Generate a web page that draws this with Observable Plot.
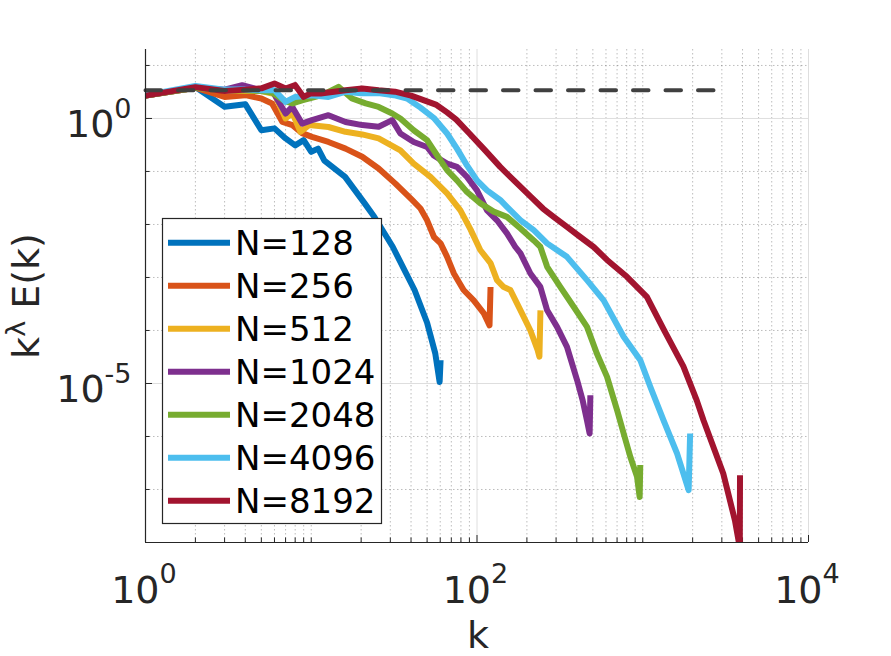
<!DOCTYPE html>
<html>
<head>
<meta charset="utf-8">
<script src="https://cdn.jsdelivr.net/npm/d3@7"></script>
<script src="https://cdn.jsdelivr.net/npm/@observablehq/plot@0.6"></script>
<style>
  html, body { margin: 0; padding: 0; background: #fff; }
  #chart { width: 891px; height: 656px; }
</style>
</head>
<body>
<div id="chart"></div>
<script>
// ---------------- data ----------------
const Ns = [128, 256, 512, 1024, 2048, 4096, 8192];
const labels = Ns.map(n => "N=" + n);
const colors = ["#0072BD", "#D95319", "#EDB120", "#7E2F8E", "#77AC30", "#4DBEEE", "#A2142F"];

const k128 = [1,2,3,4,5,6,7,8,9,10,11,12,16,21,24,31,36,42,50,56,59.5,60.3];
const e128 = [2.7,3.9,1.66,1.86,0.6,0.65,0.42,0.31,0.39,0.235,0.27,0.16,0.079,0.025,0.014,0.0038,0.0015,5.8e-4,1.4e-4,3.7e-5,1.07e-5,2.75e-5];

const k256 = [1,2,3,4,5,5.8,6.7,7.7,8.8,10.1,12.7,16.1,20.3,25.5,32.2,40.6,45.6,50,55,60.3,66,72.5,83,95.5,110,119,120.7];
const e256 = [2.7,3.8,2.55,2.75,2.38,1.92,0.86,0.75,0.53,0.45,0.36,0.27,0.19,0.114,0.059,0.029,0.02,0.012,0.0058,0.0044,0.00245,0.00119,5.8e-4,3.7e-4,2.1e-4,1.25e-4,6.6e-4];

const k512 = [1,2,3,4,5,6,7,7.7,8.6,9.7,12.7,16.1,20.3,25.5,34.5,41.5,52.4,66,79.4,91.5,104.6,120.7,132,145,159,183,210,232,238,241.4];
const e512 = [2.7,3.8,3.4,3.3,3.3,2.9,1.0,1.26,0.56,0.75,0.69,0.56,0.5,0.42,0.25,0.14,0.079,0.0385,0.0185,0.008,0.0033,0.00187,8.9e-4,6.6e-4,5.8e-4,2.4e-4,1e-4,4.3e-5,3.2e-5,2.4e-4];

const k1024 = [1,2,3,3.83,5,5.8,7,7.68,8.8,10.1,12.7,16.1,20.3,25.5,30.8,34.5,41.5,50,54.8,66,75.7,87,100,115,132,151.6,170,183,210,241,265,304,349,402,434,461,478,483];
const e1024 = [2.7,3.8,3.5,4.24,3.4,3.4,1.24,1.65,0.8,0.93,1.15,0.86,0.75,0.7,0.93,0.52,0.36,0.29,0.2,0.141,0.122,0.079,0.044,0.0185,0.012,0.0068,0.0038,0.00284,0.00119,6.65e-4,2.4e-4,1.17e-4,4.9e-5,1.15e-5,4.8e-6,2e-6,1.14e-6,6e-6];

const k2048 = [1,2,3,4,5,5.8,7,7.7,8.8,11.6,14.6,17.6,21.3,25.5,30.8,34.5,41.5,50,57.5,66,75.7,87,105,126,151.6,183,220,241,265,318,383,461,530,609,700,767,842,924,958,966];
const e2048 = [2.7,3.8,3.4,3.4,3.3,3.1,2.1,1.92,2.2,2.75,3.95,2.38,1.92,1.65,1.24,1.0,0.6,0.39,0.2,0.106,0.068,0.041,0.025,0.0175,0.0139,0.0084,0.005,0.0038,0.00159,6.65e-4,2.8e-4,1.17e-4,3.6e-5,1.33e-5,3.15e-6,1.14e-6,4.1e-7,1.74e-7,7.2e-8,2.9e-7];

const k4096 = [1,2,3,4,5,6,7,8,10,12.7,16,20,26,31.5,37.9,45.6,54.8,66,75.7,87,100,115,138,151.6,182.6,220,265,349,461,581,767,967,1112,1337,1610,1892,1931];
const e4096 = [2.75,4.1,3.5,3.5,3.4,3.4,2.06,2.55,2.75,2.55,3.18,3.0,3.0,2.75,2.38,1.6,1.03,0.52,0.27,0.13,0.068,0.044,0.029,0.0215,0.0121,0.0078,0.0044,0.00245,8.9e-4,3.7e-4,7.6e-5,2.75e-5,8.6e-6,2e-6,4.8e-7,9.7e-8,1.14e-6];

const k8192 = [1,2,3,4,5,6,7,8,9,10,11.4,16.1,20.3,25.5,32,40,48,57,66,75,90,112,138,170,210,250,290,349,420,506,609,803,1059,1337,1758,2117,2328,3060,3600,3850,3862];
const e8192 = [2.7,3.9,3.3,3.5,3.7,4.56,3.68,4.25,2.55,3.0,2.96,3.42,3.68,3.4,3.2,2.7,2.2,1.8,1.3,0.95,0.52,0.25,0.122,0.064,0.034,0.02,0.0139,0.009,0.0058,0.00376,0.00214,0.00103,4.3e-4,1.05e-4,2.1e-5,4.8e-6,2e-6,2e-7,2.6e-8,8e-9,1.86e-7];

// dashed reference line
const refK = [1, 3250];
const refV = [3.42, 3.42];

// axis ticks / labels
const xMajor = [1, 100, 10000];
const xMinor = [2,3,4,5,6,7,8,9,10,20,30,40,50,60,70,80,90,200,300,400,500,600,700,800,900,1000,2000,3000,4000,5000,6000,7000,8000,9000];
const yMajor = [1, 1e-5];
const yMinor = [10, 0.1, 0.01, 1e-3, 1e-4, 1e-6, 1e-7];
const xLabelExp = ["0", "2", "4"];
const yLabelExp = ["0", "-5"];

// ---------------- build table ----------------
const ks = [k128, k256, k512, k1024, k2048, k4096, k8192];
const es = [e128, e256, e512, e1024, e2048, e4096, e8192];
const rows = [];
ks.forEach((kk, i) => kk.forEach((k, j) => rows.push({k, v: es[i][j], N: labels[i]})));
const refRows = refK.map((k, i) => ({k, v: refV[i]}));

const FONT = "DejaVu Sans";
const AX = "#262626";

const measure = (() => {
  const c = document.createElement("canvas").getContext("2d");
  return (t, size) => { c.font = `${size}px "${FONT}"`; return c.measureText(t).width; };
})();

const yLabelMarks = yMajor.flatMap((v, i) => {
  const w = measure(yLabelExp[i], 27);
  return [
    Plot.text([v], {y: d => d, frameAnchor: "left", text: () => yLabelExp[i], textAnchor: "end", lineAnchor: "bottom", dx: -14, dy: 0, fontSize: 27, fill: AX}),
    Plot.text([v], {y: d => d, frameAnchor: "left", text: () => "10", textAnchor: "end", lineAnchor: "bottom", dx: -14 - w, dy: 19, fontSize: 38, fill: AX})
  ];
});

const plot = Plot.plot({
  width: 891,
  height: 656,
  marginLeft: 145,
  marginRight: 83,
  marginTop: 49,
  marginBottom: 114,
  style: {background: "white", fontFamily: FONT},
  x: {type: "log", domain: [1, 1e4]},
  y: {type: "log", domain: [1e-8, 20]},
  color: {domain: labels, range: colors},
  marks: [
    // minor grid (dotted)
    Plot.ruleX(xMinor, {stroke: AX, strokeOpacity: 0.3, strokeDasharray: "1.5,2.5"}),
    Plot.ruleY(yMinor, {stroke: AX, strokeOpacity: 0.3, strokeDasharray: "1.5,2.5"}),
    // major grid (solid)
    Plot.ruleX(xMajor, {stroke: "#dedede"}),
    Plot.ruleY(yMajor, {stroke: "#dedede"}),
    // axis ticks (inward)
    Plot.axisX(xMinor, {anchor: "bottom", tickSize: -4.5, tickFormat: () => "", label: null, stroke: AX}),
    Plot.axisX(xMajor, {anchor: "bottom", tickSize: -7, tickFormat: () => "", label: null, stroke: AX}),
    Plot.axisY(yMinor, {anchor: "left", tickSize: -4.5, tickFormat: () => "", label: null, stroke: AX}),
    Plot.axisY(yMajor, {anchor: "left", tickSize: -7, tickFormat: () => "", label: null, stroke: AX}),
    // data lines
    Plot.line(rows, {x: "k", y: "v", z: "N", stroke: "N", strokeWidth: 6, strokeLinejoin: "round", strokeLinecap: "butt", clip: true}),
    // dashed reference line
    Plot.line(refRows, {x: "k", y: "v", stroke: "#404040", strokeWidth: 4, strokeDasharray: "15.5,17"}),
    // axis lines
    Plot.ruleX([1], {stroke: AX, strokeWidth: 1.2}),
    Plot.ruleY([1e-8], {stroke: AX, strokeWidth: 1.2}),
    // x tick labels
    Plot.text(xMajor, {x: d => d, frameAnchor: "bottom", text: () => "10", textAnchor: "end", lineAnchor: "bottom", dx: 14, dy: 60, fontSize: 38, fill: AX}),
    Plot.text(xMajor, {x: d => d, frameAnchor: "bottom", text: (d, i) => xLabelExp[i], textAnchor: "start", lineAnchor: "bottom", dx: 14, dy: 40, fontSize: 27, fill: AX}),
    // y tick labels
    ...yLabelMarks,
    // x axis label
    Plot.text(["k"], {frameAnchor: "bottom", text: d => d, lineAnchor: "bottom", dx: 1, dy: 105, fontSize: 38, fill: AX})
  ]
});

document.getElementById("chart").appendChild(plot);

// y axis label with superscript lambda
const svg = d3.select(plot);
const yl = svg.append("text")
  .attr("transform", "translate(39,296) rotate(-90)")
  .attr("text-anchor", "middle")
  .attr("fill", AX)
  .attr("font-family", FONT)
  .attr("font-size", 38);
yl.append("tspan").text("k");
yl.append("tspan").attr("font-size", 27).attr("dy", -14).text("λ");
yl.append("tspan").attr("dy", 14).text(" E(k)");

// legend (MATLAB-style box, drawn over the lines)
const lg = svg.append("g").attr("text-anchor", "start");
lg.append("rect")
  .attr("x", 162.5).attr("y", 218.5).attr("width", 219).attr("height", 305)
  .attr("fill", "white").attr("stroke", AX).attr("stroke-width", 1.2);
labels.forEach((lab, i) => {
  const cy = 242.7 + 43 * i;
  lg.append("line").attr("x1", 168).attr("x2", 230).attr("y1", cy).attr("y2", cy)
    .attr("stroke", colors[i]).attr("stroke-width", 6);
  lg.append("text").attr("x", 235).attr("y", cy + 12.5).attr("text-anchor", "start")
    .attr("font-family", FONT).attr("font-size", 34).attr("fill", "#000").text(lab);
});
</script>
</body>
</html>
